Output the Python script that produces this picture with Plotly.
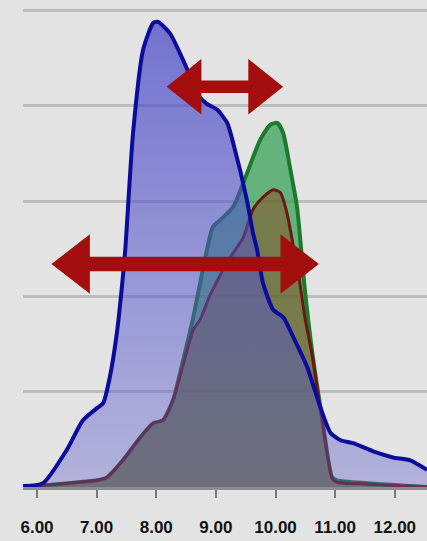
import plotly.graph_objects as go

# ---- data ----
tick_values = [6, 7, 8, 9, 10, 11, 12]
tick_labels = ["6.00", "7.00", "8.00", "9.00", "10.00", "11.00", "12.00"]

blue_x = [5.77, 6.10, 6.50, 6.77, 7.01, 7.11, 7.22, 7.34, 7.43, 7.48, 7.61, 7.78, 7.95, 8.03,
          8.23, 8.45, 8.73, 8.85, 9.02, 9.19, 9.29, 9.52, 9.62, 9.69, 9.79, 9.96, 10.13, 10.30,
          10.53, 10.75, 10.92, 11.09, 11.30, 11.70, 11.97, 12.26, 12.54]
blue_y = [0.01, 0.04, 0.39, 0.70, 0.83, 0.88, 1.15, 1.62, 2.14, 2.49, 3.71, 4.59, 4.87, 4.88,
          4.76, 4.48, 4.09, 4.02, 3.96, 3.82, 3.61, 3.01, 2.67, 2.49, 2.14, 1.86, 1.78, 1.57,
          1.26, 0.84, 0.57, 0.49, 0.46, 0.36, 0.31, 0.28, 0.18]

green_x = [5.77, 6.17, 7.01, 7.17, 7.44, 7.73, 7.95, 8.11, 8.28, 8.45, 8.62, 8.79, 8.85, 8.95,
           9.07, 9.29, 9.52, 9.74, 9.91, 10.03, 10.13, 10.24, 10.36, 10.43, 10.48, 10.61, 10.78,
           10.95, 11.03, 11.54, 12.54]
green_y = [0.00, 0.02, 0.07, 0.10, 0.28, 0.52, 0.67, 0.70, 0.91, 1.33, 1.78, 2.31, 2.49, 2.73,
           2.80, 2.94, 3.29, 3.64, 3.80, 3.82, 3.71, 3.36, 2.94, 2.49, 2.14, 1.44, 0.73,
           0.10, 0.07, 0.04, 0.00]

red_x = [5.77, 6.17, 7.01, 7.17, 7.44, 7.73, 7.95, 8.11, 8.28, 8.45, 8.62, 8.73, 8.90, 9.07,
         9.24, 9.46, 9.62, 9.79, 9.96, 10.08, 10.19, 10.30, 10.40, 10.50, 10.61, 10.78, 10.95,
         11.03, 11.54, 12.54]
red_y = [0.00, 0.02, 0.07, 0.10, 0.28, 0.52, 0.67, 0.70, 0.91, 1.28, 1.65, 1.75, 2.01, 2.22,
         2.41, 2.62, 2.91, 3.04, 3.12, 3.09, 2.88, 2.52, 2.17, 1.75, 1.40, 0.70, 0.09,
         0.05, 0.03, 0.00]

# double arrows: (x start, x end, y level)
arrow_spans = [(8.20, 10.10, 4.20), (6.27, 10.70, 2.34)]

# ---- figure ----
fig = go.Figure()

fig.add_trace(go.Scatter(
    x=green_x, y=green_y, mode="lines", fill="tozeroy",
    line=dict(color="#1c7a2c", width=4, shape="spline", smoothing=0.6),
    fillcolor="rgba(40,155,75,0.68)", hoverinfo="skip"))

fig.add_trace(go.Scatter(
    x=red_x, y=red_y, mode="lines", fill="tozeroy",
    line=dict(color="#6a1810", width=3, shape="spline", smoothing=0.6),
    fillcolor="rgba(140,70,30,0.5)", hoverinfo="skip"))

fig.add_trace(go.Scatter(
    x=blue_x, y=blue_y, mode="lines", fill="tozeroy",
    line=dict(color="#0c0c9c", width=4, shape="spline", smoothing=0.6),
    fillgradient=dict(type="vertical",
                      colorscale=[[0, "rgba(90,90,205,0.36)"], [1, "rgba(70,70,200,0.72)"]]),
    hoverinfo="skip"))

shapes = []
heads = [(0.54, 0.27, 0.055), (0.60, 0.29, 0.065)]
for (x0, x1, y), (hl, hh, st) in zip(arrow_spans, heads):
    path = (f"M {x0},{y} L {x0+hl},{y+hh} L {x0+hl},{y+st} L {x1-hl},{y+st} "
            f"L {x1-hl},{y+hh} L {x1},{y} L {x1-hl},{y-hh} L {x1-hl},{y-st} "
            f"L {x0+hl},{y-st} L {x0+hl},{y-hh} Z")
    shapes.append(dict(type="path", path=path, xref="x", yref="y",
                       fillcolor="#a30e0e", line=dict(color="#a30e0e", width=2),
                       layer="above"))

fig.update_layout(
    width=427, height=541,
    margin=dict(l=23, r=0, t=0, b=54),
    paper_bgcolor="#e3e3e3", plot_bgcolor="#e3e3e3",
    showlegend=False,
    shapes=shapes,
    xaxis=dict(range=[5.765, 12.54], tickvals=tick_values, ticktext=tick_labels,
               showgrid=False, zeroline=False, showline=True, linecolor="#8c8c8c",
               linewidth=3, ticks="outside", ticklen=8, tickwidth=2, tickcolor="#7a7a7a",
               ticklabelstandoff=15,
               tickfont=dict(family="Liberation Sans", size=17, color="#111111",
                             weight="bold")),
    yaxis=dict(range=[0, 5.11], dtick=1, showgrid=True, gridcolor="#bdbdbd", gridwidth=3,
               zeroline=False, showticklabels=False, showline=False),
)

fig.write_html("out.html", config={"displayModeBar": False},
               post_script="document.body.style.margin='0';document.body.style.background='#e3e3e3';")
